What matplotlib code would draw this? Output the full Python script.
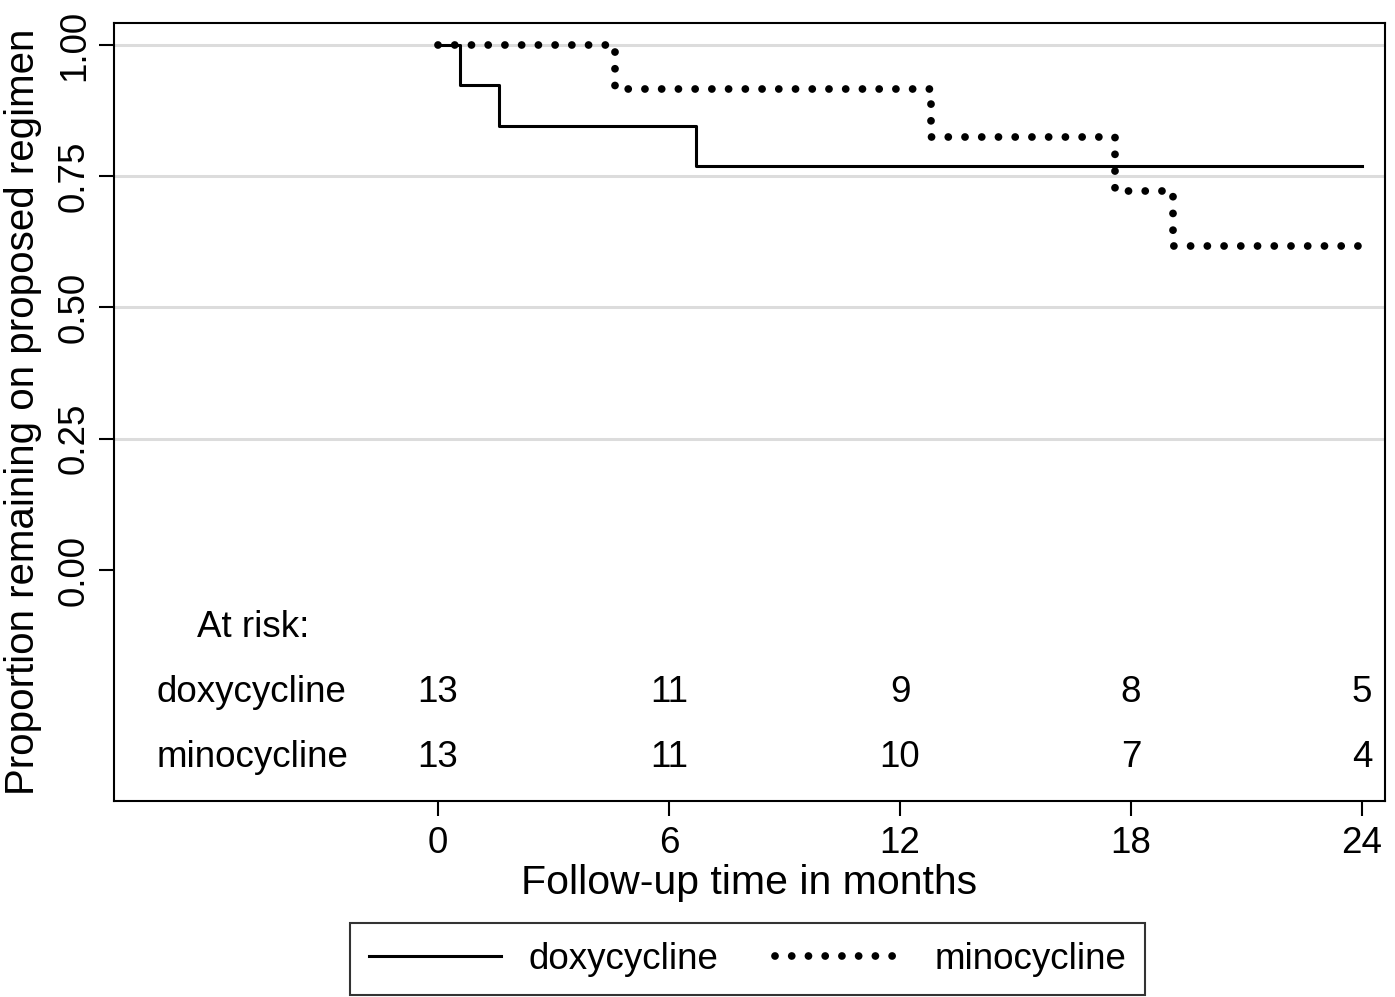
import numpy as np
import matplotlib.pyplot as plt

plt.rcParams['font.family'] = ['Liberation Sans', 'DejaVu Sans']

# Kaplan-Meier step data
doxy_t = [0, 0.57, 1.58, 6.69, 24]
doxy_s = [1.0, 0.923, 0.846, 0.769, 0.769]
mino_t = [0, 4.6, 12.8, 17.58, 19.09, 24]
mino_s = [1.0, 0.917, 0.824, 0.721, 0.618, 0.618]

risk_times = [0, 6, 12, 18, 24]
doxy_risk = [13, 11, 9, 8, 5]
mino_risk = [13, 11, 10, 7, 4]

fig = plt.figure(figsize=(13.95, 9.97), dpi=100)
ax = fig.add_axes([114/1395, 1-801/997, (1385-114)/1395, (801-23)/997])

xmin, xmax = (114-438)/38.5, (1385-438)/38.5
ymin, ymax = (570-801)/525, (570-23)/525
ax.set_xlim(xmin, xmax)
ax.set_ylim(ymin, ymax)

for g in [0.25, 0.5, 0.75, 1.0]:
    ax.axhline(g, color='#dcdcdc', lw=2.2, zorder=0)

ax.step(doxy_t, doxy_s, where='post', color='black', lw=2.2,
        label='doxycycline', zorder=3)
ax.step(mino_t, mino_s, where='post', color='black', lw=5.6,
        linestyle=(0, (0.001, 2.15)), dash_capstyle='round',
        label='minocycline', zorder=3)

# numbers at risk
fs = 26.5
ax.text(-6.26, -0.11, 'At risk:', fontsize=fs, ha='left', va='center')
ax.text(-7.3, -0.234, 'doxycycline', fontsize=fs, ha='left', va='center')
ax.text(-7.3, -0.357, 'minocycline', fontsize=fs, ha='left', va='center')
for t, d, m in zip(risk_times, doxy_risk, mino_risk):
    ax.text(t, -0.234, str(d), fontsize=fs, ha='center', va='center')
    ax.text(t, -0.357, str(m), fontsize=fs, ha='center', va='center')

ax.set_xticks(risk_times)
ax.set_xticklabels([str(t) for t in risk_times], fontsize=fs)
ax.set_yticks([0, 0.25, 0.5, 0.75, 1.0])
ax.set_yticklabels(['0.00', '0.25', '0.50', '0.75', '1.00'], fontsize=fs,
                   rotation=90, va='center')
ax.tick_params(axis='both', length=11, width=1.5, color='black')
ax.tick_params(axis='x', pad=7)
ax.tick_params(axis='y', pad=5)

for sp in ax.spines.values():
    sp.set_linewidth(1.5)
    sp.set_color('black')

ax.set_xlabel('Follow-up time in months', fontsize=29.5, labelpad=2)
ax.set_ylabel('Proportion remaining on proposed regimen', fontsize=29)
ax.yaxis.set_label_coords(-0.0565, 0.5)

leg = fig.legend(handles=ax.get_lines()[-2:], loc='lower center',
                 bbox_to_anchor=(747.5/1395, 2/997), ncol=2,
                 fontsize=fs, frameon=True, fancybox=False, edgecolor='black',
                 handlelength=3.6, columnspacing=1.55, borderpad=0.5,
                 handletextpad=0.73, borderaxespad=0)
leg.get_frame().set_linewidth(1.5)

fig.savefig('out.png', dpi=100, facecolor='white')
